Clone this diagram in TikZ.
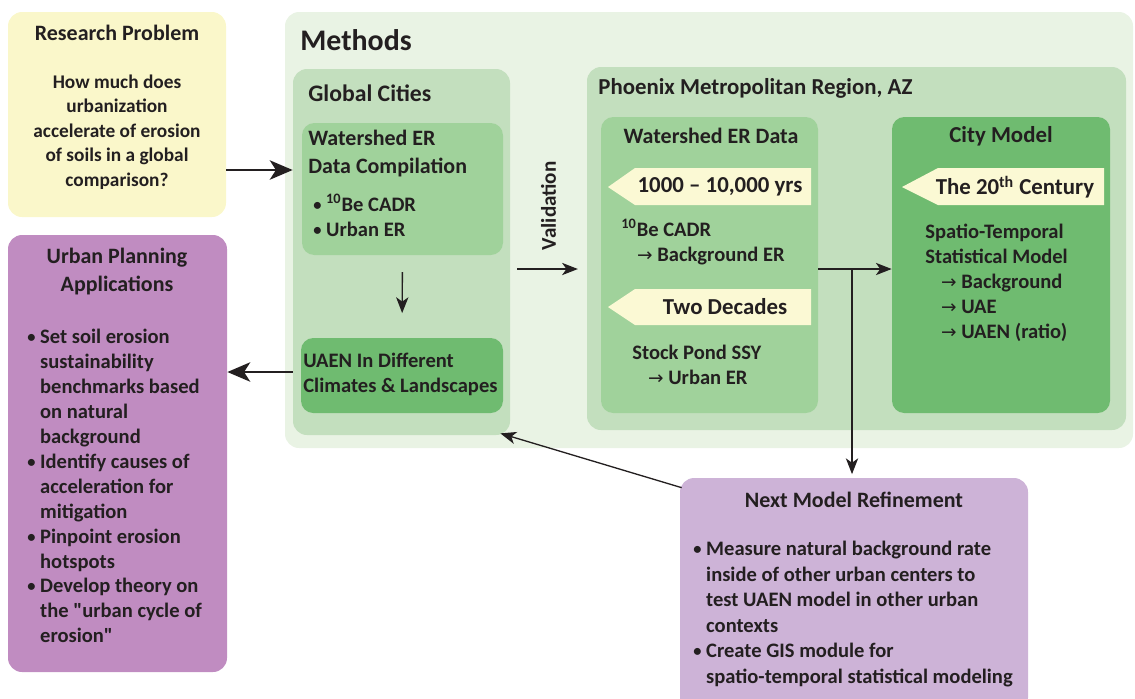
\documentclass[tikz,border=0pt]{standalone}
\usepackage{fontspec}
\setmainfont{Carlito}[Ligatures=TeXOff]
\newfontfamily\symfont{DejaVu Sans}
\usetikzlibrary{fit,arrows.meta,calc}

\newcommand{\toarrow}{{\symfont\mdseries\scalebox{0.9}{→}}}
\newcommand{\bitem}{\raisebox{0.1ex}{\scalebox{0.8}{•}}\ }
\newcommand{\bpad}{\phantom{\scalebox{0.8}{•}\ }}

\begin{document}
\begin{tikzpicture}[x=0.02cm, y=-0.02cm,
  box/.style={rounded corners=8pt, inner sep=0pt, draw=none},
  sbox/.style={rounded corners=7pt, inner sep=0pt, draw=none},
  txt/.style={inner sep=0pt, text=ink, font=\fontsize{11.7}{14.2}\selectfont\bfseries},
  head/.style={inner sep=0pt, text=ink, font=\fontsize{12.5}{15.4}\selectfont\bfseries},
  tag/.style={fill=colTag, draw=none},
  bigarrow/.style={draw=ink, line width=1.5pt, -{Stealth[length=13pt, width=11pt, inset=3.5pt]}},
  thinarrow/.style={draw=ink, line width=0.75pt, -{Stealth[length=9pt, width=7pt, inset=2.5pt]}}]

% Colori
\definecolor{ink}{HTML}{231F20}
\definecolor{colYel}{HTML}{FAF7CA}
\definecolor{colMeth}{HTML}{E9F3E4}
\definecolor{colReg}{HTML}{C3DFBE}
\definecolor{colMid}{HTML}{A0D29B}
\definecolor{colDark}{HTML}{6FBB70}
\definecolor{colTag}{HTML}{FBF9D4}
\definecolor{colPlan}{HTML}{C08CC1}
\definecolor{colNext}{HTML}{CDB3D7}

\useasboundingbox (0,0) rectangle (1135,698);

% Riquadri
\node[box, fill=colYel, fit={(8,12) (226,217)}] (rp) {};
\node[box, fill=colPlan, fit={(8,235) (227,672)}] (up) {};
\node[box, fill=colMeth, fit={(285,12) (1133,448)}] (meth) {};
\node[box, fill=colReg, fit={(293,69) (510,435)}] (gc) {};
\node[sbox, fill=colMid, fit={(302,123) (503,255)}] (wsc) {};
\node[sbox, fill=colDark, fit={(301,338) (503,413)}] (uaen) {};
\node[box, fill=colReg, fit={(587,67) (1126,430)}] (ph) {};
\node[sbox, fill=colMid, fit={(601,117) (818,413)}] (wed) {};
\node[sbox, fill=colDark, fit={(892,117) (1110,413)}] (cm) {};
\node[box, fill=colNext, fit={(680,478) (1028,712)}] (nm) {};

% Frecce-etichetta
\fill[tag] (608,187) -- (635,168) -- (811,168) -- (811,205) -- (635,205) -- cycle;
\fill[tag] (608,307) -- (635,289) -- (811,289) -- (811,325) -- (635,325) -- cycle;
\fill[tag] (902,187) -- (938,168) -- (1104,168) -- (1104,205) -- (938,205) -- cycle;

% Research Problem
\node[head] (rptitle) at (117,33) {Research Problem};
\node[txt, font=\fontsize{11}{14}\selectfont\bfseries, align=center] (rpq) at (117,132)
  {How much does\\urbanization\\accelerate of erosion\\of soils in a global\\comparison?};

% Urban Planning Applications
\node[head, align=center] (uptitle) at (117,271.5) {Urban Planning\\Applications};
\node[txt, align=left, anchor=west] (uplist) at (27,486)
  {\bitem Set soil erosion\\\bpad sustainability\\\bpad benchmarks based\\\bpad on natural\\\bpad background\\
   \bitem Identify causes of\\\bpad acceleration for\\\bpad mitigation\\
   \bitem Pinpoint erosion\\\bpad hotspots\\
   \bitem Develop theory on\\\bpad the "urban cycle of\\\bpad erosion"};

% Methods
\node[inner sep=0pt, text=ink, font=\fontsize{17}{20}\selectfont\bfseries, anchor=west] (mtitle) at (300,40) {Methods};

% Global Cities
\node[head, font=\fontsize{13.5}{16}\selectfont\bfseries, anchor=west] (gctitle) at (308,93) {Global Cities};
\node[head, align=left, anchor=west] (wsctitle) at (308,153.5) {Watershed ER\\Data Compilation};
\node[txt, align=left, anchor=west] (wsclist) at (313,215.5) {\bitem\textsuperscript{10}Be CADR\\\bitem Urban ER};
\node[txt, align=left, anchor=west] (uaentxt) at (303,374.5) {UAEN In Different\\Climates \& Landscapes};

% Phoenix
\node[head, font=\fontsize{13}{16}\selectfont\bfseries, anchor=west] (phtitle) at (598,88) {Phoenix Metropolitan Region, AZ};
\node[head] (wedtitle) at (711,136) {Watershed ER Data};
\node[head, font=\fontsize{13}{16}\selectfont\bfseries] (tagA) at (720,187) {1000 – 10,000 yrs};
\node[txt, align=left, anchor=west] (bedata) at (621,242) {\textsuperscript{10}Be CADR\\\hspace*{9pt}\toarrow\ Background ER};
\node[head, font=\fontsize{13}{16}\selectfont\bfseries] (tagB) at (725,307) {Two Decades};
\node[txt, align=left, anchor=west] (ssydata) at (632,364.5) {Stock Pond SSY\\\hspace*{9pt}\toarrow\ Urban ER};

\node[head, font=\fontsize{13}{16}\selectfont\bfseries] (cmtitle) at (1001,136) {City Model};
\node[head, font=\fontsize{13}{16}\selectfont\bfseries] (tagC) at (1015,187) {The 20\textsuperscript{th} Century};
\node[txt, align=left, anchor=west] (cmtxt) at (925,282.5)
  {Spatio-Temporal\\Statistical Model\\\hspace*{9pt}\toarrow\ Background\\\hspace*{9pt}\toarrow\ UAE\\\hspace*{9pt}\toarrow\ UAEN (ratio)};

% Next Model Refinement
\node[head] (nmtitle) at (854,500) {Next Model Refinement};
\node[txt, font=\fontsize{11.7}{14.6}\selectfont\bfseries, align=left, anchor=west] (nmlist) at (693,614)
  {\bitem Measure natural background rate\\\bpad inside of other urban centers to\\\bpad test UAEN model in other urban\\\bpad contexts\\
   \bitem Create GIS module for\\\bpad spatio-temporal statistical modeling};

% Collegamenti
\coordinate (lvlA) at (0,170);
\coordinate (lvlB) at (0,372);
\coordinate (lvlC) at (0,269);
\coordinate (split) at (852,269);

\draw[bigarrow] (rp.east |- lvlA) -- (gc.west |- lvlA);
\draw[bigarrow] (gc.west |- lvlB) -- (up.east |- lvlB);
\draw[thinarrow, shorten <=9.5pt, shorten >=14pt] (wsc.south) -- (uaen.north);
\draw[thinarrow, shorten <=4pt, shorten >=5pt] (gc.east |- lvlC) -- (ph.west |- lvlC)
  node[midway, above=36pt, rotate=90, anchor=center, inner sep=0pt, text=ink, font=\fontsize{12}{14}\selectfont\bfseries] (valid) {Validation};
\draw[thinarrow] (wed.east |- lvlC) -- (cm.west |- lvlC);
\draw[thinarrow, shorten >=2pt] (split) -- (split |- nm.north);
\draw[thinarrow] ([shift={(2,10)}]nm.north west) -- ([shift={(-10,-2)}]gc.south east);

\end{tikzpicture}
\end{document}
